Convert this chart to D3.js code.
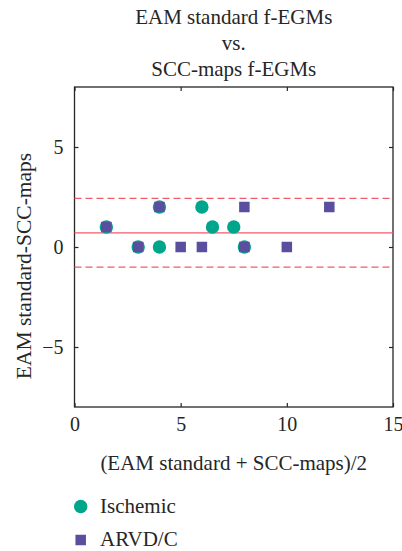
<!DOCTYPE html>
<html>
<head>
<meta charset="utf-8">
<script src="https://cdn.jsdelivr.net/npm/d3@7"></script>
<style>
  body { margin: 0; background: #fff; }
  svg text { font-family: "Liberation Serif", "Times New Roman", serif; fill: #262626; }
</style>
</head>
<body>
<svg id="chart"></svg>
<script>
// Data
const titleLines = ["EAM standard f-EGMs", "vs.", "SCC-maps f-EGMs"];
const seriesNames = ["Ischemic", "ARVD/C"];
const ischemicX = [1.5, 3, 4, 4, 6, 6.5, 7.5, 8];
const ischemicY = [1, 0, 2, 0, 2, 1, 1, 0];
const arvdX = [1.5, 3, 4, 5, 6, 8, 8, 10, 12];
const arvdY = [1, 0, 2, 0, 0, 2, 0, 0, 2];
const meanDiff = 0.71;
const limits = [2.43, -1.01];
const xTicks = [0, 5, 10, 15];
const yTicks = [-5, 0, 5];

const width = 402;
const height = 551;
const margin = { top: 87, right: 9, bottom: 144, left: 74.5 };
const innerW = width - margin.left - margin.right;
const innerH = height - margin.top - margin.bottom;

const svg = d3.select("#chart")
  .attr("width", width)
  .attr("height", height);

const g = svg.append("g")
  .attr("transform", `translate(${margin.left}, ${margin.top})`);

const x = d3.scaleLinear().domain([0, 15]).range([0, innerW]);
const y = d3.scaleLinear().domain([-8, 8]).range([innerH, 0]);

const axisColor = "#262626";
const red = "#ef5b6b";
const teal = "#00a68c";
const purple = "#5a4f9f";
const fontSize = 21;

// Title
svg.append("text")
  .attr("x", margin.left + innerW / 2)
  .attr("text-anchor", "middle")
  .attr("font-size", fontSize)
  .selectAll("tspan")
  .data(titleLines)
  .enter()
  .append("tspan")
  .attr("x", margin.left + innerW / 2)
  .attr("y", (d, i) => 24 + i * 26)
  .text(d => d);

// Axes (ticks point inward, like a boxed MATLAB plot)
const tickLen = 4;
g.append("g")
  .attr("transform", `translate(0, ${innerH})`)
  .call(d3.axisBottom(x).tickValues(xTicks).tickSize(-tickLen).tickPadding(10).tickFormat(d3.format("d")))
  .call(a => a.select(".domain").remove())
  .call(a => a.selectAll("text").attr("font-size", 20).attr("dy", "0.71em"));

g.append("g")
  .call(d3.axisTop(x).tickValues(xTicks).tickSize(-tickLen).tickFormat(""))
  .call(a => a.select(".domain").remove());

g.append("g")
  .call(d3.axisLeft(y).tickValues(yTicks).tickSize(-tickLen).tickPadding(11).tickFormat(d => d < 0 ? "\u2212" + Math.abs(d) : d))
  .call(a => a.select(".domain").remove())
  .call(a => a.selectAll("text").attr("font-size", 20));

g.append("g")
  .attr("transform", `translate(${innerW}, 0)`)
  .call(d3.axisRight(y).tickValues(yTicks).tickSize(-tickLen).tickFormat(""))
  .call(a => a.select(".domain").remove());

g.selectAll(".tick line").attr("stroke", axisColor).attr("stroke-width", 1.2);

g.append("rect")
  .attr("width", innerW)
  .attr("height", innerH)
  .attr("fill", "none")
  .attr("stroke", axisColor)
  .attr("stroke-width", 1.3);

// Mean and limits of agreement
g.append("line")
  .attr("x1", 0).attr("x2", innerW)
  .attr("y1", y(meanDiff)).attr("y2", y(meanDiff))
  .attr("stroke", red).attr("stroke-width", 1.3);

g.selectAll(".limit")
  .data(limits)
  .enter()
  .append("line")
  .attr("class", "limit")
  .attr("x1", 0).attr("x2", innerW)
  .attr("y1", d => y(d)).attr("y2", d => y(d))
  .attr("stroke", red).attr("stroke-width", 1.3)
  .attr("stroke-dasharray", "7,4");

// Points
const ischemic = ischemicX.map((v, i) => ({ x: v, y: ischemicY[i] }));
const arvd = arvdX.map((v, i) => ({ x: v, y: arvdY[i] }));
const sq = 10.5;

g.selectAll(".isch")
  .data(ischemic)
  .enter()
  .append("circle")
  .attr("class", "isch")
  .attr("cx", d => x(d.x))
  .attr("cy", d => y(d.y))
  .attr("r", 6.7)
  .attr("fill", teal);

g.selectAll(".arvd")
  .data(arvd)
  .enter()
  .append("rect")
  .attr("class", "arvd")
  .attr("x", d => x(d.x) - sq / 2)
  .attr("y", d => y(d.y) - sq / 2)
  .attr("width", sq)
  .attr("height", sq)
  .attr("fill", purple);

// Axis labels
svg.append("text")
  .attr("x", margin.left + innerW / 2)
  .attr("y", 470)
  .attr("text-anchor", "middle")
  .attr("font-size", fontSize)
  .text("(EAM standard + SCC-maps)/2");

svg.append("text")
  .attr("transform", "translate(31, 266) rotate(-90)")
  .attr("text-anchor", "middle")
  .attr("font-size", 21.5)
  .text("EAM standard-SCC-maps");

// Legend
const legend = svg.append("g");
legend.append("circle")
  .attr("cx", 80.7).attr("cy", 506.5).attr("r", 6.7)
  .attr("fill", teal);
legend.append("rect")
  .attr("x", 80.7 - sq / 2).attr("y", 540 - sq / 2)
  .attr("width", sq).attr("height", sq)
  .attr("fill", purple);
legend.selectAll(".legtext")
  .data(seriesNames)
  .enter()
  .append("text")
  .attr("class", "legtext")
  .attr("x", 100)
  .attr("y", (d, i) => 513 + i * 33)
  .attr("font-size", fontSize)
  .text(d => d);
</script>
</body>
</html>
